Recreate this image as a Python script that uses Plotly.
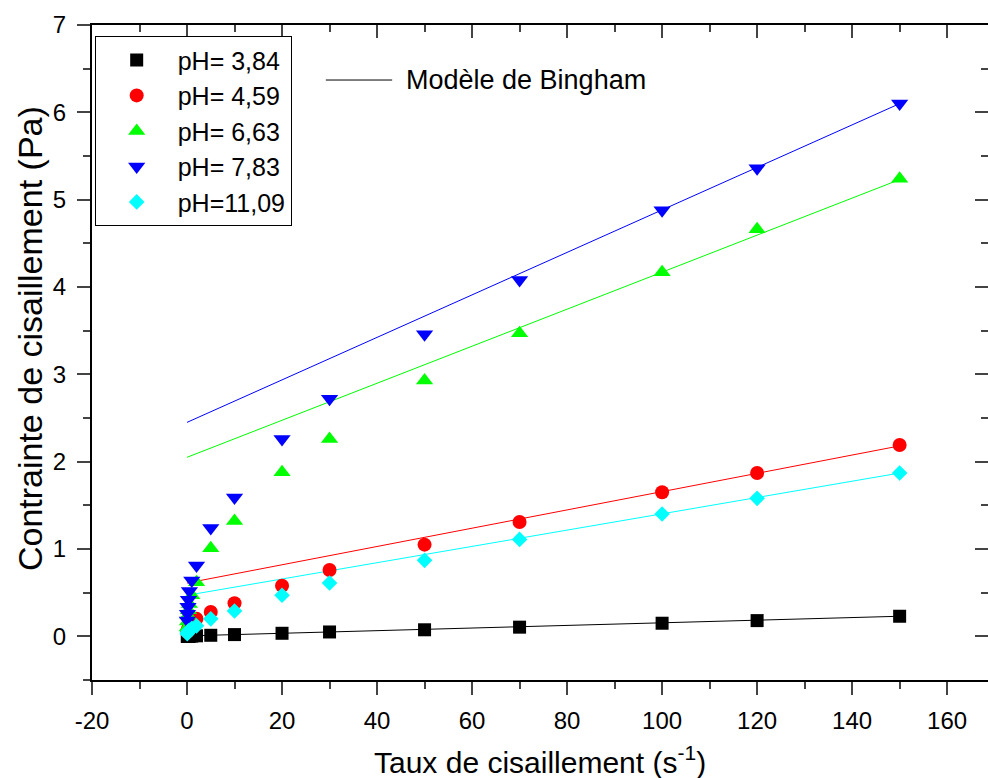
import plotly.graph_objects as go

# ---- data ----
shear_rate = [0.05, 0.1, 0.2, 0.3, 0.5, 1, 2, 5, 10, 20, 30, 50, 70, 100, 120, 150]

series_names = ["pH= 3,84", "pH= 4,59", "pH= 6,63", "pH= 7,83", "pH=11,09"]

stress_ph384 = [0.0, 0.0, 0.001, 0.001, 0.002, 0.003, 0.006, 0.012, 0.02, 0.035, 0.05, 0.075, 0.105, 0.15, 0.18, 0.23]
stress_ph459 = [0.05, 0.06, 0.08, 0.09, 0.11, 0.14, 0.2, 0.28, 0.38, 0.58, 0.76, 1.05, 1.31, 1.65, 1.87, 2.19]
stress_ph663 = [0.1, 0.17, 0.24, 0.3, 0.37, 0.47, 0.62, 1.01, 1.32, 1.88, 2.26, 2.93, 3.47, 4.17, 4.66, 5.24]
stress_ph783 = [0.18, 0.26, 0.34, 0.42, 0.52, 0.64, 0.81, 1.24, 1.59, 2.26, 2.72, 3.46, 4.08, 4.88, 5.36, 6.1]
stress_ph1109 = [0.03, 0.04, 0.05, 0.06, 0.07, 0.09, 0.12, 0.2, 0.29, 0.47, 0.61, 0.87, 1.11, 1.40, 1.58, 1.87]

# Bingham model: tau = tau0 + eta * gamma_dot
bingham_tau0 = [0.005, 0.61, 2.05, 2.45, 0.47]
bingham_eta = [0.0015, 0.01047, 0.0212, 0.02433, 0.00933]
fit_range = [0, 150]

x_tickvals = [-20, 0, 20, 40, 60, 80, 100, 120, 140, 160]
x_ticktext = ["-20", "0", "20", "40", "60", "80", "100", "120", "140", "160"]
y_tickvals = [0, 1, 2, 3, 4, 5, 6, 7]
y_ticktext = ["0", "1", "2", "3", "4", "5", "6", "7"]

colors = ["#000000", "#ff0000", "#00ff00", "#0000ff", "#00ffff"]
symbols = ["square", "circle", "triangle-up", "triangle-down", "diamond"]
sizes = [13, 14, 15, 15, 12]

all_stress = [stress_ph384, stress_ph459, stress_ph663, stress_ph783, stress_ph1109]

FONT = "Liberation Sans, Arial, sans-serif"

fig = go.Figure()

# fit lines
for i in range(5):
    xs = fit_range
    ys = [bingham_tau0[i] + bingham_eta[i] * x for x in xs]
    fig.add_trace(go.Scatter(x=xs, y=ys, mode="lines", line=dict(color=colors[i], width=1),
                             showlegend=False, hoverinfo="skip"))

# data points
for i in range(5):
    fig.add_trace(go.Scatter(x=shear_rate, y=all_stress[i], mode="markers", name=series_names[i],
                             marker=dict(symbol=symbols[i], size=sizes[i], color=colors[i],
                                         line=dict(width=0))))

# dummy trace for mirrored (inside-tick) axes
fig.add_trace(go.Scatter(x=[None], y=[None], xaxis="x2", yaxis="y2", showlegend=False, hoverinfo="skip"))

xr = [-20, 168.6]
yr = [-0.5, 7]

fig.update_layout(
    width=988, height=778,
    margin=dict(l=92, r=0, t=25, b=98),
    paper_bgcolor="white", plot_bgcolor="white",
    font=dict(family=FONT, color="black"),
    xaxis=dict(range=xr, tickmode="array", tickvals=x_tickvals, ticktext=x_ticktext,
               ticks="outside", ticklen=13, tickwidth=2,
               showline=True, linewidth=2, linecolor="black", showgrid=False, zeroline=False,
               tickfont=dict(size=24, family=FONT), ticklabelstandoff=5,
               minor=dict(ticks="outside", ticklen=7, tickwidth=2, dtick=10, tick0=0, showgrid=False)),
    yaxis=dict(range=yr, tickmode="array", tickvals=y_tickvals, ticktext=y_ticktext,
               ticks="outside", ticklen=13, tickwidth=2,
               showline=True, linewidth=2, linecolor="black", showgrid=False, zeroline=False,
               tickfont=dict(size=24, family=FONT), ticklabelstandoff=6,
               minor=dict(ticks="outside", ticklen=7, tickwidth=2, dtick=0.5, tick0=0, showgrid=False)),
    xaxis2=dict(range=xr, overlaying="x", side="top", anchor="y2", dtick=20, tick0=0,
                ticks="inside", ticklen=13, tickwidth=2, showticklabels=False,
                showline=True, linewidth=2, linecolor="black", showgrid=False, zeroline=False,
                minor=dict(ticks="inside", ticklen=7, tickwidth=2, dtick=10, tick0=0, showgrid=False)),
    yaxis2=dict(range=yr, overlaying="y", side="right", anchor="x2", dtick=1, tick0=0,
                ticks="inside", ticklen=13, tickwidth=2, showticklabels=False,
                showline=True, linewidth=2, linecolor="black", showgrid=False, zeroline=False,
                minor=dict(ticks="inside", ticklen=7, tickwidth=2, dtick=0.5, tick0=0, showgrid=False)),
    legend=dict(x=0.003, y=0.983, xanchor="left", yanchor="top",
                bordercolor="black", borderwidth=1, bgcolor="white",
                font=dict(size=25, family=FONT), itemwidth=72,
                tracegroupgap=0),
    showlegend=True,
)

# axis titles
fig.add_annotation(xref="paper", yref="paper", x=0.5, y=-0.122, xanchor="center", yanchor="middle",
                   text="Taux de cisaillement (s<sup>-1</sup>)", showarrow=False,
                   font=dict(size=30, family=FONT))
fig.add_annotation(xref="paper", yref="paper", x=-0.0692, y=0.522, xanchor="center", yanchor="middle",
                   text="Contrainte de cisaillement (Pa)", showarrow=False, textangle=-90,
                   font=dict(size=34, family=FONT))

# Bingham model key
fig.add_shape(type="line", xref="paper", yref="paper", x0=0.261, x1=0.335, y0=0.916, y1=0.916,
              line=dict(color="black", width=1))
fig.add_annotation(xref="paper", yref="paper", x=0.348, y=0.916, xanchor="left", yanchor="middle",
                   text="Modèle de Bingham", showarrow=False, font=dict(size=27, family=FONT))

fig.write_html("out.html")
